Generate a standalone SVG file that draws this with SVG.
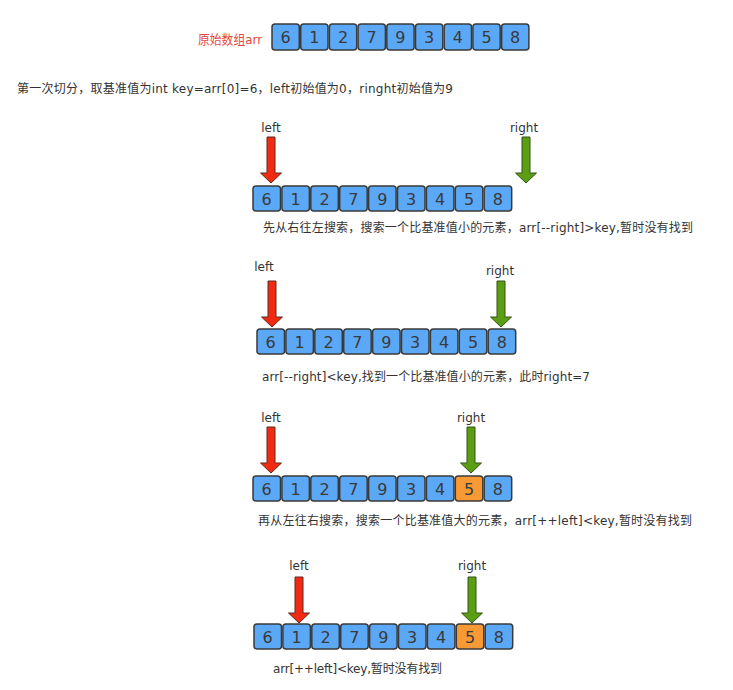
<svg xmlns="http://www.w3.org/2000/svg" xmlns:xlink="http://www.w3.org/1999/xlink" width="733" height="690" viewBox="0 0 733 690">
  <style>
    .cell { fill: #5aa8f6; stroke: #3a3a3a; stroke-width: 1.5; }
    .cell.hit { fill: #f79a35; }
    .num { font-family: "DejaVu Sans", "Liberation Sans", sans-serif; font-size: 16px; fill: #3a3a3a; text-anchor: middle; }
    .note { font-family: "DejaVu Sans", "Noto Sans CJK SC", sans-serif; font-size: 12px; fill: #333; }
    .title { font-family: "DejaVu Sans", "Noto Sans CJK SC", sans-serif; font-size: 13px; fill: #e5483c; }
    .ptr { font-family: "DejaVu Sans", "Liberation Sans", sans-serif; font-size: 12px; fill: #333; text-anchor: middle; }
    .red { fill: #f22a12; stroke: #5a2a20; stroke-width: 1; }
    .green { fill: #5b9e12; stroke: #34501a; stroke-width: 1; }
  </style>
  <defs>
    <!-- downward pointer, tip at (0,0) -->
    <path id="down" d="M-4,-46 H4 V-10 H10.5 L0,0 L-10.5,-10 H-4 Z"/>
  </defs>
  <rect width="733" height="690" fill="#fff"/>

  <!-- original array -->
  <g id="original">
    <text class="title" x="198" y="44" textLength="64" lengthAdjust="spacingAndGlyphs">原始数组arr</text>
    <g transform="translate(272,24)">
      <rect class="cell" x="0" width="27.3" height="26" rx="3"/><text class="num" x="13.6" y="19">6</text>
      <rect class="cell" x="28.7" width="27.3" height="26" rx="3"/><text class="num" x="42.3" y="19">1</text>
      <rect class="cell" x="57.4" width="27.3" height="26" rx="3"/><text class="num" x="71" y="19">2</text>
      <rect class="cell" x="86.1" width="27.3" height="26" rx="3"/><text class="num" x="99.7" y="19">7</text>
      <rect class="cell" x="114.8" width="27.3" height="26" rx="3"/><text class="num" x="128.4" y="19">9</text>
      <rect class="cell" x="143.5" width="27.3" height="26" rx="3"/><text class="num" x="157.1" y="19">3</text>
      <rect class="cell" x="172.2" width="27.3" height="26" rx="3"/><text class="num" x="185.8" y="19">4</text>
      <rect class="cell" x="200.9" width="27.3" height="26" rx="3"/><text class="num" x="214.5" y="19">5</text>
      <rect class="cell" x="229.6" width="27.3" height="26" rx="3"/><text class="num" x="243.2" y="19">8</text>
    </g>
  </g>

  <text class="note" x="17" y="93" textLength="436" lengthAdjust="spacing">第一次切分，取基准值为int key=arr[0]=6，left初始值为0，ringht初始值为9</text>

  <!-- step 1 -->
  <g id="step1">
    <g transform="translate(253,186)">
      <rect class="cell" x="0" width="27.5" height="25" rx="3"/><text class="num" x="13.7" y="18.5">6</text>
      <rect class="cell" x="28.9" width="27.5" height="25" rx="3"/><text class="num" x="42.6" y="18.5">1</text>
      <rect class="cell" x="57.8" width="27.5" height="25" rx="3"/><text class="num" x="71.5" y="18.5">2</text>
      <rect class="cell" x="86.7" width="27.5" height="25" rx="3"/><text class="num" x="100.4" y="18.5">7</text>
      <rect class="cell" x="115.6" width="27.5" height="25" rx="3"/><text class="num" x="129.3" y="18.5">9</text>
      <rect class="cell" x="144.5" width="27.5" height="25" rx="3"/><text class="num" x="158.2" y="18.5">3</text>
      <rect class="cell" x="173.4" width="27.5" height="25" rx="3"/><text class="num" x="187.1" y="18.5">4</text>
      <rect class="cell" x="202.3" width="27.5" height="25" rx="3"/><text class="num" x="216" y="18.5">5</text>
      <rect class="cell" x="231.2" width="27.5" height="25" rx="3"/><text class="num" x="244.9" y="18.5">8</text>
    </g>
    <text class="ptr" x="271" y="132">left</text>
    <text class="ptr" x="524" y="132">right</text>
    <text class="note" x="263" y="232" textLength="430" lengthAdjust="spacing">先从右往左搜索，搜索一个比基准值小的元素，arr[--right]&gt;key,暂时没有找到</text>
  </g>

  <!-- step 2 -->
  <g id="step2">
    <g transform="translate(257,329)">
      <rect class="cell" x="0" width="27.5" height="25" rx="3"/><text class="num" x="13.7" y="18.5">6</text>
      <rect class="cell" x="28.9" width="27.5" height="25" rx="3"/><text class="num" x="42.6" y="18.5">1</text>
      <rect class="cell" x="57.8" width="27.5" height="25" rx="3"/><text class="num" x="71.5" y="18.5">2</text>
      <rect class="cell" x="86.7" width="27.5" height="25" rx="3"/><text class="num" x="100.4" y="18.5">7</text>
      <rect class="cell" x="115.6" width="27.5" height="25" rx="3"/><text class="num" x="129.3" y="18.5">9</text>
      <rect class="cell" x="144.5" width="27.5" height="25" rx="3"/><text class="num" x="158.2" y="18.5">3</text>
      <rect class="cell" x="173.4" width="27.5" height="25" rx="3"/><text class="num" x="187.1" y="18.5">4</text>
      <rect class="cell" x="202.3" width="27.5" height="25" rx="3"/><text class="num" x="216" y="18.5">5</text>
      <rect class="cell" x="231.2" width="27.5" height="25" rx="3"/><text class="num" x="244.9" y="18.5">8</text>
    </g>
    <text class="ptr" x="264" y="271">left</text>
    <text class="ptr" x="500" y="275">right</text>
    <text class="note" x="262" y="381" textLength="328" lengthAdjust="spacing">arr[--right]&lt;key,找到一个比基准值小的元素，此时right=7</text>
  </g>

  <!-- step 3 -->
  <g id="step3">
    <g transform="translate(253,476)">
      <rect class="cell" x="0" width="27.5" height="25" rx="3"/><text class="num" x="13.7" y="18.5">6</text>
      <rect class="cell" x="28.9" width="27.5" height="25" rx="3"/><text class="num" x="42.6" y="18.5">1</text>
      <rect class="cell" x="57.8" width="27.5" height="25" rx="3"/><text class="num" x="71.5" y="18.5">2</text>
      <rect class="cell" x="86.7" width="27.5" height="25" rx="3"/><text class="num" x="100.4" y="18.5">7</text>
      <rect class="cell" x="115.6" width="27.5" height="25" rx="3"/><text class="num" x="129.3" y="18.5">9</text>
      <rect class="cell" x="144.5" width="27.5" height="25" rx="3"/><text class="num" x="158.2" y="18.5">3</text>
      <rect class="cell" x="173.4" width="27.5" height="25" rx="3"/><text class="num" x="187.1" y="18.5">4</text>
      <rect class="cell hit" x="202.3" width="27.5" height="25" rx="3"/><text class="num" x="216" y="18.5">5</text>
      <rect class="cell" x="231.2" width="27.5" height="25" rx="3"/><text class="num" x="244.9" y="18.5">8</text>
    </g>
    <text class="ptr" x="271" y="422">left</text>
    <text class="ptr" x="471" y="422">right</text>
    <text class="note" x="258" y="525" textLength="434" lengthAdjust="spacing">再从左往右搜索，搜索一个比基准值大的元素，arr[++left]&lt;key,暂时没有找到</text>
  </g>

  <!-- step 4 -->
  <g id="step4">
    <g transform="translate(254,624)">
      <rect class="cell" x="0" width="27.5" height="25" rx="3"/><text class="num" x="13.7" y="18.5">6</text>
      <rect class="cell" x="28.9" width="27.5" height="25" rx="3"/><text class="num" x="42.6" y="18.5">1</text>
      <rect class="cell" x="57.8" width="27.5" height="25" rx="3"/><text class="num" x="71.5" y="18.5">2</text>
      <rect class="cell" x="86.7" width="27.5" height="25" rx="3"/><text class="num" x="100.4" y="18.5">7</text>
      <rect class="cell" x="115.6" width="27.5" height="25" rx="3"/><text class="num" x="129.3" y="18.5">9</text>
      <rect class="cell" x="144.5" width="27.5" height="25" rx="3"/><text class="num" x="158.2" y="18.5">3</text>
      <rect class="cell" x="173.4" width="27.5" height="25" rx="3"/><text class="num" x="187.1" y="18.5">4</text>
      <rect class="cell hit" x="202.3" width="27.5" height="25" rx="3"/><text class="num" x="216" y="18.5">5</text>
      <rect class="cell" x="231.2" width="27.5" height="25" rx="3"/><text class="num" x="244.9" y="18.5">8</text>
    </g>
    <text class="ptr" x="299" y="570">left</text>
    <text class="ptr" x="472" y="570">right</text>
    <text class="note" x="273" y="673" textLength="169" lengthAdjust="spacing">arr[++left]&lt;key,暂时没有找到</text>
  </g>

  <!-- pointers -->
  <g id="pointers">
    <use href="#down" xlink:href="#down" class="red" x="271" y="183"/>
    <use href="#down" xlink:href="#down" class="green" x="526" y="183"/>
    <use href="#down" xlink:href="#down" class="red" x="272" y="327"/>
    <use href="#down" xlink:href="#down" class="green" x="501" y="327"/>
    <use href="#down" xlink:href="#down" class="red" x="271" y="473"/>
    <use href="#down" xlink:href="#down" class="green" x="471" y="473"/>
    <use href="#down" xlink:href="#down" class="red" x="299" y="623"/>
    <use href="#down" xlink:href="#down" class="green" x="472" y="623"/>
  </g>
</svg>
